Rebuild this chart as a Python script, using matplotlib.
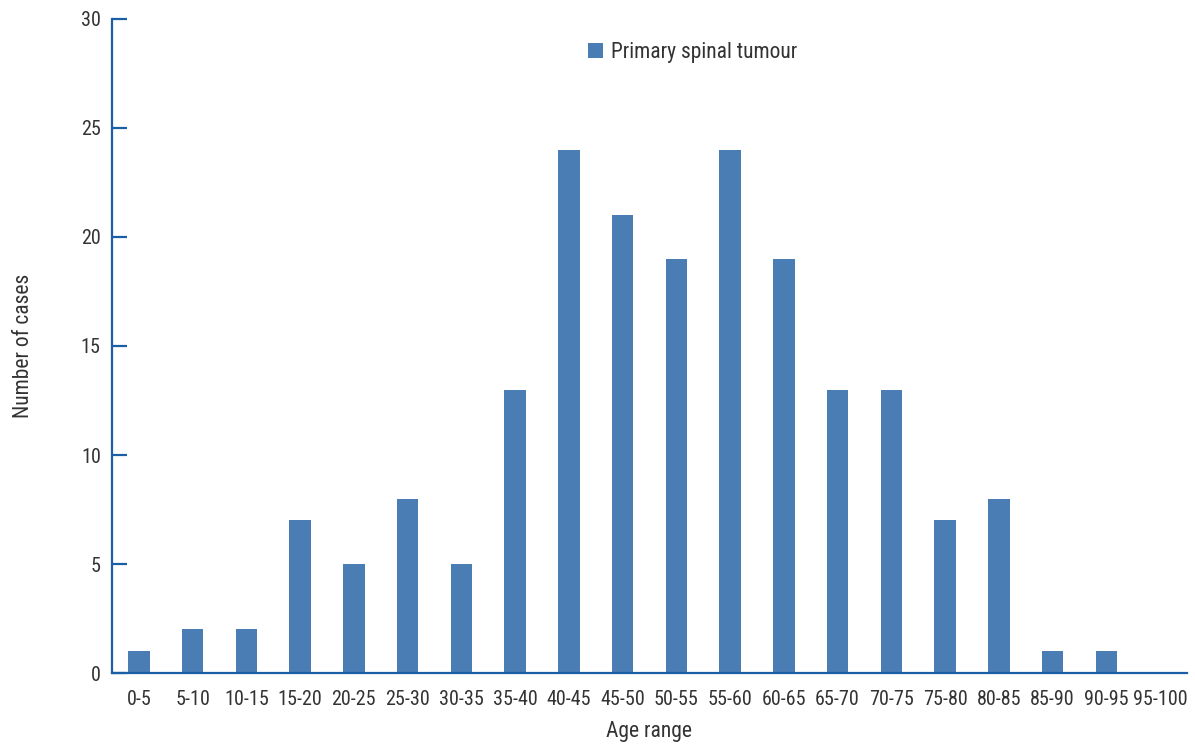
import numpy as np
import matplotlib.pyplot as plt

plt.rcParams['font.family'] = ['Roboto Condensed', 'DejaVu Sans']

# age ranges and counts
age_ranges = ['0-5', '5-10', '10-15', '15-20', '20-25', '25-30', '30-35', '35-40',
              '40-45', '45-50', '50-55', '55-60', '60-65', '65-70', '70-75', '75-80',
              '80-85', '85-90', '90-95', '95-100']
cases = [1, 2, 2, 7, 5, 8, 5, 13, 24, 21, 19, 24, 19, 13, 13, 7, 8, 1, 1, 0]

bar_color = '#4a7db4'
axis_color = '#1a5ea6'
text_color = '#333333'

fig = plt.figure(figsize=(11.95, 7.44), dpi=100)
ax = fig.add_axes([0.0937, 0.0954, 0.8996, 0.8791])

x = np.arange(len(age_ranges))
ax.bar(x, cases, width=0.4, color=bar_color, label='Primary spinal tumour')

ax.set_xlim(-0.5, len(age_ranges) - 0.5)
ax.set_ylim(0, 30)
ax.set_yticks(range(0, 31, 5))
ax.set_xticks(x)
ax.set_xticklabels(age_ranges)

for side in ['top', 'right']:
    ax.spines[side].set_visible(False)
for side in ['left', 'bottom']:
    ax.spines[side].set_color(axis_color)
    ax.spines[side].set_linewidth(1.6)

ax.tick_params(axis='y', direction='in', length=11, width=1.6, color=axis_color,
               labelsize=14.5, labelcolor=text_color, pad=8)
ax.tick_params(axis='x', length=0, labelsize=14.5, labelcolor=text_color, pad=12)

ax.set_xlabel('Age range', fontsize=15.5, color=text_color, labelpad=9)
ax.set_ylabel('Number of cases', fontsize=15.5, color=text_color, labelpad=34)

ax.legend(loc='upper center', bbox_to_anchor=(0.54, 0.995), frameon=False, fontsize=15.5,
          handlelength=0.7, handleheight=0.7, handletextpad=0.4, labelcolor=text_color)

fig.savefig('out.png', dpi=100)
